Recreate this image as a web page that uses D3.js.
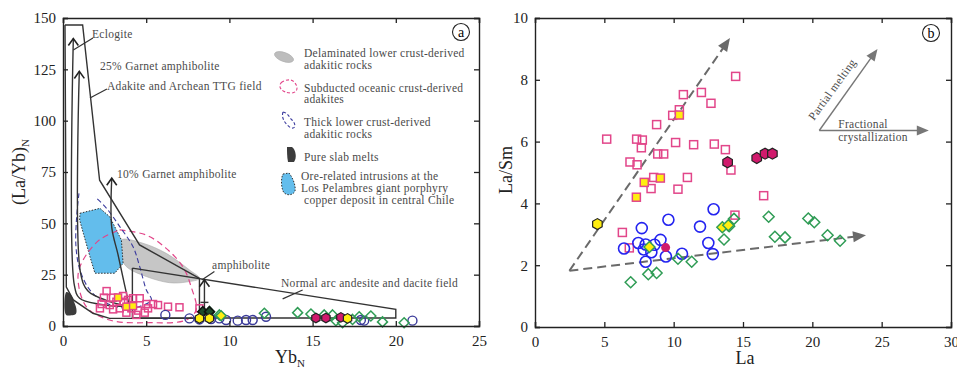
<!DOCTYPE html>
<html>
<head>
<meta charset="utf-8">
<script src="https://cdn.jsdelivr.net/npm/d3@7"></script>
<style>
  body { margin: 0; background: #fff; }
  text { font-family: "Liberation Serif", "DejaVu Serif", serif; }
</style>
</head>
<body>
<svg id="chart" width="957" height="368"></svg>
<script>
// ---- panel a data: (La/Yb)N vs YbN ----
const aXTicks = [0, 5, 10, 15, 20, 25];
const aYTicks = [0, 25, 50, 75, 100, 125, 150];

const adakiteField = [[0.12,146.6],[1.18,146.6],[2.2,71],[4.6,39.5],[8.2,23.2],[8.2,3.7],[2.8,3.7],[1.8,6.2],[0.62,12.7],[0.2,19],[0.12,146.6]];
const normalArcField = [[4.17,28.2],[20,8.1],[20,3.9],[4.17,3.9],[4.17,28.2]];
const eclogiteCurve = [[4.0,9.4],[2.2,10.6],[1.0,13.5],[0.68,20],[0.62,140]];
const garnet25Curve = [[4.0,9.4],[2.6,12.5],[1.5,17],[1.05,26],[0.98,124]];
const garnet10Curve = [[4.0,9.4],[3.7,20],[3.3,35],[2.93,48],[2.93,72]];
const amphiboliteCurve = [[8.5,5],[8.5,22.5]];
const delaminatedField = [[3.5,41.9],[4.8,40.3],[6.2,35.4],[7.6,27.3],[8.2,23.2],[7.4,21.4],[6.4,21.1],[5.0,24.1],[3.8,29],[3.4,35.4]];
const oreField = [[1.02,54.9],[2.22,57.3],[2.81,53.2],[3.51,41.9],[3.61,30.5],[3.11,25.7],[1.92,25.7],[1.62,33.8],[1.22,45.2],[1.0,51.6]];
const subductedOutline = [[3.4,46.8],[5.0,44.3],[6.2,37.8],[7.2,28.9],[7.7,19.1],[8.0,7.8],[7.4,2.9],[5.2,1.6],[2.8,2.9],[1.4,9.4],[0.9,24],[1.2,32],[2.2,42],[3.4,46.8]];
const thickCrustOutline = [[0.96,64.6],[0.82,53.2],[0.78,38.6],[1.02,27.3],[1.62,17.5],[2.62,11.1],[3.81,8.6],[4.6,9.5],[5.31,12.7],[5.01,17.5],[4.61,28.9],[4.21,38.6],[3.41,48.4],[2.62,57.3],[1.92,63]];
const slabMelts = [[0.2,16.5],[0.45,15.5],[0.65,12],[0.8,8.5],[0.78,6],[0.5,5.2],[0.18,5.5]];

const aPinkSquares = [[2.62,17.0],[2.46,13.8],[3.01,13.8],[3.61,14.6],[2.32,10.7],[2.81,10.2],[3.21,11.8],[3.65,11.8],[3.91,12.7],[4.21,13.5],[4.61,13.5],[5.01,10.7],[5.41,10.7],[5.71,10.2],[6.31,9.4],[7.0,9.1],[2.22,8.6],[4.11,8.6],[4.51,7.5],[4.91,6.5],[3.41,8.6],[3.01,8.1],[8.2,8.6],[5.11,8.6],[3.81,6.5],[4.41,5.4]];
const aPinkSquaresYellow = [[3.31,13.9],[3.81,9.4],[4.21,9.7]];
const aBlueCircles = [[6.15,5.4],[7.6,3.7],[8.2,3.2],[8.9,3.4],[9.4,3.7],[9.8,2.9],[10.5,2.6],[11.0,2.9],[11.4,2.9],[12.2,4.5],[17.9,2.9],[18.1,2.6],[21.0,2.6]];
const aGreenDiamonds = [[8.8,7.0],[9.4,5.4],[12.1,6.2],[14.1,6.5],[14.9,5.8],[15.7,5.4],[16.2,5.4],[16.4,2.6],[16.8,1.6],[17.4,3.2],[17.8,4.5],[18.5,4.9],[19.2,2.0],[20.5,1.6]];
const aDarkDiamonds = [[8.4,7.0],[8.8,7.0]];
const aYellowDiamonds = [[9.5,5.0]];
const aPinkHex = [[15.2,3.9],[15.8,3.9],[16.7,4.2]];
const aYellowHex = [[8.2,3.7],[8.8,3.7],[17.1,3.7]];

// ---- panel b data: La/Sm vs La ----
const bXTicks = [0, 5, 10, 15, 20, 25, 30];
const bYTicks = [0, 2, 4, 6, 8, 10];

const bPinkSquares = [[5.17,6.08],[7.33,6.08],[7.74,6.05],[7.67,5.8],[6.85,5.34],[7.36,5.25],[8.85,5.6],[9.28,5.6],[8.56,4.84],[8.37,4.48],[8.77,6.55],[9.93,6.85],[10.41,7.03],[10.7,7.52],[12.0,7.59],[12.69,7.24],[14.47,8.11],[10.14,5.97],[11.44,5.9],[12.93,5.92],[13.73,5.74],[10.99,4.84],[10.31,4.46],[14.13,5.08],[16.49,4.25],[14.42,3.62],[6.3,3.06],[6.8,2.56]];
const bPinkSquaresYellow = [[10.41,6.86],[7.88,4.68],[9.04,4.82],[7.31,4.2]];
const bPinkHex = [[13.89,5.33],[15.99,5.47],[16.59,5.61],[17.12,5.61]];
const bPinkDots = [[9.42,2.57]];
const bYellowHex = [[4.5,3.33]];
const bBlueCircles = [[6.42,2.54],[7.45,2.72],[7.7,3.2],[7.84,2.51],[7.98,2.11],[7.98,2.67],[8.39,2.42],[8.62,2.66],[9.05,2.82],[9.62,3.47],[9.44,2.28],[10.6,2.37],[11.9,3.25],[12.5,2.72],[12.88,3.81],[12.82,2.36]];
const bGreenDiamonds = [[6.9,1.45],[8.17,1.71],[8.77,1.75],[10.31,2.21],[11.3,2.11],[13.63,2.83],[14.0,3.26],[14.35,3.5],[16.85,3.57],[17.3,2.92],[18.03,2.9],[19.71,3.51],[20.14,3.39],[21.1,2.97],[22.0,2.79]];
const bGreenDiamondsYellow = [[8.25,2.59],[13.51,3.23],[13.94,3.29]];
const bTrendMelting = [[2.48,1.82],[14.06,9.35]];
const bTrendCryst = [[2.48,1.82],[23.87,2.97]];
const bInsetMelting = [[20.5,6.36],[24.7,9.0]];
const bInsetCryst = [[20.5,6.36],[28.4,6.36]];

// ---- colours ----
const PINK = "#e2468a", YELLOW = "#ffee10", BLUE_B = "#2424f0", NAVY = "#3a3a9a",
      GREEN = "#2f9c55", LINE = "#333", GREYTXT = "#4a4a4a";

const svg = d3.select("#chart");

function hexPath(r) {
  const pts = d3.range(6).map(i => {
    const a = Math.PI / 6 + i * Math.PI / 3;
    return [r * Math.cos(a), r * Math.sin(a)];
  });
  return "M" + pts.map(p => p.join(",")).join("L") + "Z";
}

function frame(g, x, y, xt, yt) {
  const [x0, x1] = x.range(), [y0, y1] = y.range();
  g.append("g").attr("transform", `translate(0,${y0})`)
    .call(d3.axisBottom(x).tickValues(xt).tickSize(-5).tickPadding(9).tickFormat(d3.format("d")));
  g.append("g").attr("transform", `translate(0,${y1})`)
    .call(d3.axisTop(x).tickValues(xt).tickSize(-5).tickFormat(""));
  g.append("g").attr("transform", `translate(${x0},0)`)
    .call(d3.axisLeft(y).tickValues(yt).tickSize(-5).tickPadding(7).tickFormat(d3.format("d")));
  g.append("g").attr("transform", `translate(${x1},0)`)
    .call(d3.axisRight(y).tickValues(yt).tickSize(-5).tickFormat(""));
  g.selectAll(".domain").attr("stroke", "#222").attr("stroke-width", 1.4);
  g.selectAll(".tick line").attr("stroke", "#222").attr("stroke-width", 1.3);
  g.selectAll(".tick text").style("font-family", "'Liberation Serif', serif").style("font-size", "15px").attr("fill", "#222");
}

function openArrow(g, p0, p1, len, hw) {
  const a = Math.atan2(p1[1] - p0[1], p1[0] - p0[0]);
  const l = [p1[0] - len * Math.cos(a) + hw * Math.sin(a), p1[1] - len * Math.sin(a) - hw * Math.cos(a)];
  const r = [p1[0] - len * Math.cos(a) - hw * Math.sin(a), p1[1] - len * Math.sin(a) + hw * Math.cos(a)];
  g.append("path").attr("d", `M${l}L${p1}L${r}`).attr("fill", "none").attr("stroke", "#222").attr("stroke-width", 1.6);
}
function solidArrow(g, p0, p1, len, hw, col) {
  const a = Math.atan2(p1[1] - p0[1], p1[0] - p0[0]);
  const l = [p1[0] - len * Math.cos(a) + hw * Math.sin(a), p1[1] - len * Math.sin(a) - hw * Math.cos(a)];
  const r = [p1[0] - len * Math.cos(a) - hw * Math.sin(a), p1[1] - len * Math.sin(a) + hw * Math.cos(a)];
  g.append("path").attr("d", `M${l}L${p1}L${r}Z`).attr("fill", col);
}

function badge(g, cx, cy, t) {
  g.append("circle").attr("cx", cx).attr("cy", cy).attr("r", 8.5).attr("fill", "none").attr("stroke", "#222").attr("stroke-width", 1.1);
  g.append("text").attr("x", cx).attr("y", cy + 4.5).attr("text-anchor", "middle").attr("font-size", 14).text(t);
}

// ================= panel a =================
const xa = d3.scaleLinear().domain([0, 25]).range([63, 479]);
const ya = d3.scaleLinear().domain([0, 150]).range([326, 18]);
const ga = svg.append("g");
const lineA = d3.line().x(d => xa(d[0])).y(d => ya(d[1]));
const smoothA = d3.line().x(d => xa(d[0])).y(d => ya(d[1])).curve(d3.curveCatmullRomClosed.alpha(0.5));
const smoothOpenA = d3.line().x(d => xa(d[0])).y(d => ya(d[1])).curve(d3.curveCatmullRom.alpha(0.5));

ga.append("path").attr("d", smoothA(delaminatedField)).attr("fill", "#c6c6c6").attr("stroke", "#aaa").attr("stroke-width", 0.6);
ga.append("path").attr("d", lineA(oreField) + "Z").attr("fill", "#63bdec")
  .attr("stroke", "#333").attr("stroke-width", 1).attr("stroke-dasharray", "1.5,1.5");
ga.append("path").attr("d", smoothA(slabMelts)).attr("fill", "#3c3c3c");
ga.append("path").attr("d", smoothOpenA(subductedOutline)).attr("fill", "none")
  .attr("stroke", PINK).attr("stroke-width", 1.2).attr("stroke-dasharray", "6,4");
ga.append("path").attr("d", smoothOpenA(thickCrustOutline)).attr("fill", "none")
  .attr("stroke", "#3b3b9e").attr("stroke-width", 1.1).attr("stroke-dasharray", "5,3");

ga.append("path").attr("d", lineA(adakiteField)).attr("fill", "none").attr("stroke", LINE).attr("stroke-width", 1.4);
ga.append("path").attr("d", lineA(normalArcField)).attr("fill", "none").attr("stroke", LINE).attr("stroke-width", 1.4);
[eclogiteCurve, garnet25Curve, garnet10Curve, amphiboliteCurve].forEach(c => {
  ga.append("path").attr("d", smoothOpenA(c)).attr("fill", "none").attr("stroke", LINE).attr("stroke-width", 1.4);
  const n = c.length;
  openArrow(ga, [xa(c[n - 2][0]), ya(c[n - 2][1])], [xa(c[n - 1][0]), ya(c[n - 1][1])], 7, 5);
});
ga.append("line").attr("x1", xa(8.5) - 4).attr("x2", xa(8.5) + 4).attr("y1", ya(11.5)).attr("y2", ya(11.5)).attr("stroke", LINE).attr("stroke-width", 1.4);

// leader lines
[[[0.62,134.4],[1.8,140.3]], [[1.62,111],[2.64,115.4]], [[8.34,22.4],[9.1,26.6]], [[13.2,13.2],[14.4,17.5]]].forEach(s => {
  ga.append("path").attr("d", lineA(s)).attr("stroke", LINE).attr("stroke-width", 1.2);
});

// points panel a
const sq = (g, data, x, y, s, fill, stroke) => g.append("g").selectAll("rect").data(data).join("rect")
  .attr("x", d => x(d[0]) - s / 2).attr("y", d => y(d[1]) - s / 2).attr("width", s).attr("height", s)
  .attr("fill", fill).attr("stroke", stroke).attr("stroke-width", 1.5);
const circ = (g, data, x, y, r, fill, stroke, sw) => g.append("g").selectAll("circle").data(data).join("circle")
  .attr("cx", d => x(d[0])).attr("cy", d => y(d[1])).attr("r", r)
  .attr("fill", fill).attr("stroke", stroke).attr("stroke-width", sw);
const dia = (g, data, x, y, s, fill, stroke) => g.append("g").selectAll("path").data(data).join("path")
  .attr("d", `M0,${-s}L${s},0L0,${s}L${-s},0Z`).attr("transform", d => `translate(${x(d[0])},${y(d[1])})`)
  .attr("fill", fill).attr("stroke", stroke).attr("stroke-width", 1.5);
const hex = (g, data, x, y, r, fill) => g.append("g").selectAll("path").data(data).join("path")
  .attr("d", hexPath(r)).attr("transform", d => `translate(${x(d[0])},${y(d[1])})`)
  .attr("fill", fill).attr("stroke", "#222").attr("stroke-width", 1.2);

sq(ga, aPinkSquares, xa, ya, 7, "none", PINK);
sq(ga, aPinkSquaresYellow, xa, ya, 7, YELLOW, PINK);
circ(ga, aBlueCircles, xa, ya, 4.5, "none", NAVY, 1.4);
dia(ga, aGreenDiamonds, xa, ya, 5, "none", GREEN);
dia(ga, aDarkDiamonds, xa, ya, 5, "#1d4d2a", "#111");
dia(ga, aYellowDiamonds, xa, ya, 5, YELLOW, GREEN);
hex(ga, aPinkHex, xa, ya, 4.8, "#d01a6c");
hex(ga, aYellowHex, xa, ya, 4.8, YELLOW);

frame(ga, xa, ya, aXTicks, aYTicks);

// annotations panel a
const ann = (g, x, y, t, size) => g.append("text").attr("x", x).attr("y", y).attr("font-size", size || 11.5)
  .attr("fill", GREYTXT).attr("letter-spacing", 0.3).text(t);
ann(ga, 92, 38, "Eclogite");
ann(ga, 100, 70, "25% Garnet amphibolite");
ann(ga, 107, 90, "Adakite and Archean TTG field");
ann(ga, 117, 178, "10% Garnet amphibolite");
ann(ga, 212, 269, "amphibolite");
ann(ga, 281, 287, "Normal arc andesite and dacite field");
badge(ga, 461, 32, "a");

// legend panel a
const leg = ga.append("g");
leg.append("ellipse").attr("cx", 284).attr("cy", 57).attr("rx", 10).attr("ry", 4.5)
  .attr("transform", "rotate(20,284,57)").attr("fill", "#bdbdbd").attr("stroke", "#aaa").attr("stroke-width", 0.6);
leg.append("path").attr("d", "M282,82 C277,86 281,93 292,93 C299,92 298,85 293,81 C290,79 285,80 282,82")
  .attr("fill", "none").attr("stroke", PINK).attr("stroke-width", 1.1).attr("stroke-dasharray", "3,2");
leg.append("path").attr("d", "M283,112 C281,118 285,124 291,128 C296,129 296,124 292,120 C289,117 288,113 283,112")
  .attr("fill", "none").attr("stroke", "#3b3b9e").attr("stroke-width", 1.1).attr("stroke-dasharray", "3,2");
leg.append("path").attr("d", "M287,147 L292,147 C296,150 297,158 294,162 L288,162 C287,157 287,152 287,147 Z").attr("fill", "#3c3c3c");
leg.append("path").attr("d", "M283,174 L289,173 C293,178 296,186 295,191 C293,196 285,196 283,191 C281,186 281,178 283,174 Z")
  .attr("fill", "#63bdec").attr("stroke", "#333").attr("stroke-width", 1).attr("stroke-dasharray", "1.5,1.5");
[[304, 57, "Delaminated lower crust-derived"], [304, 69, "adakitic rocks"],
 [304, 92, "Subducted oceanic crust-derived"], [304, 103, "adakites"],
 [304, 126, "Thick lower crust-derived"], [304, 138, "adakitic rocks"],
 [304, 161, "Pure slab melts"],
 [301, 180, "Ore-related intrusions at the"], [301, 192, "Los Pelambres giant porphyry"],
 [304, 204, "copper deposit in central Chile"]].forEach(d => ann(leg, d[0], d[1], d[2]));

// axis titles panel a
const ta = ga.append("text").attr("transform", "translate(25,172) rotate(-90)").attr("text-anchor", "middle")
  .attr("font-size", 18).attr("fill", "#222");
ta.append("tspan").text("(La/Yb)");
ta.append("tspan").attr("font-size", 11).attr("dy", 4).text("N");
const tx = ga.append("text").attr("x", 290).attr("y", 363).attr("text-anchor", "middle").attr("font-size", 18).attr("fill", "#222");
tx.append("tspan").text("Yb");
tx.append("tspan").attr("font-size", 11).attr("dy", 4).text("N");

// ================= panel b =================
const xb = d3.scaleLinear().domain([0, 30]).range([535, 951]);
const yb = d3.scaleLinear().domain([0, 10]).range([327, 18]);
const gb = svg.append("g");

[bTrendMelting, bTrendCryst].forEach(t => {
  const p0 = [xb(t[0][0]), yb(t[0][1])], p1 = [xb(t[1][0]), yb(t[1][1])];
  const a = Math.atan2(p1[1] - p0[1], p1[0] - p0[0]);
  const pe = [p1[0] - 10 * Math.cos(a), p1[1] - 10 * Math.sin(a)];
  gb.append("path").attr("d", `M${p0}L${pe}`).attr("stroke", "#6a6a6a").attr("stroke-width", 2).attr("stroke-dasharray", "9,5");
  solidArrow(gb, p0, p1, 13, 5.5, "#6a6a6a");
});
[bInsetMelting, bInsetCryst].forEach(t => {
  const p0 = [xb(t[0][0]), yb(t[0][1])], p1 = [xb(t[1][0]), yb(t[1][1])];
  const a = Math.atan2(p1[1] - p0[1], p1[0] - p0[0]);
  gb.append("path").attr("d", `M${p0}L${[p1[0] - 8 * Math.cos(a), p1[1] - 8 * Math.sin(a)]}`).attr("stroke", "#777").attr("stroke-width", 1.4);
  solidArrow(gb, p0, p1, 12, 5, "#777");
});
gb.append("text").attr("transform", "translate(814,121) rotate(-54)").attr("font-size", 11.5)
  .attr("fill", GREYTXT).attr("letter-spacing", 0.3).text("Partial melting");
gb.append("text").attr("x", 863).attr("y", 128).attr("text-anchor", "middle").attr("font-size", 11.5).attr("fill", GREYTXT).attr("letter-spacing", 0.3).text("Fractional");
gb.append("text").attr("x", 873).attr("y", 141).attr("text-anchor", "middle").attr("font-size", 11.5).attr("fill", GREYTXT).attr("letter-spacing", 0.3).text("crystallization");

sq(gb, bPinkSquares, xb, yb, 8, "none", PINK);
sq(gb, bPinkSquaresYellow, xb, yb, 8, YELLOW, PINK);
circ(gb, bBlueCircles, xb, yb, 5.5, "none", BLUE_B, 1.6);
dia(gb, bGreenDiamonds, xb, yb, 5.5, "none", GREEN);
dia(gb, bGreenDiamondsYellow, xb, yb, 5.5, YELLOW, GREEN);
circ(gb, bPinkDots, xb, yb, 4.5, "#d01a6c", "none", 0);
hex(gb, bPinkHex, xb, yb, 5.5, "#d01a6c");
hex(gb, bYellowHex, xb, yb, 5.5, YELLOW);

frame(gb, xb, yb, bXTicks, bYTicks);
badge(gb, 931, 33, "b");

gb.append("text").attr("transform", "translate(512,170) rotate(-90)").attr("text-anchor", "middle")
  .attr("font-size", 18).attr("fill", "#222").text("La/Sm");
gb.append("text").attr("x", 745).attr("y", 364).attr("text-anchor", "middle").attr("font-size", 18).attr("fill", "#222").text("La");
</script>
</body>
</html>
